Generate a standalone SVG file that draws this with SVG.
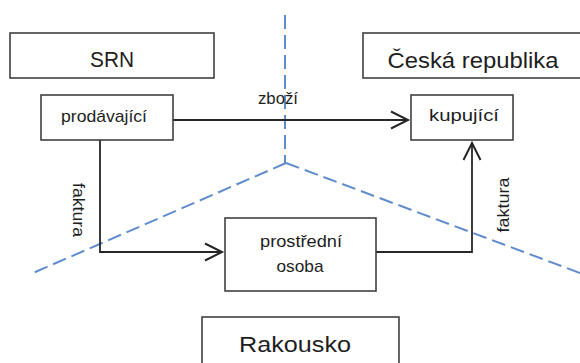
<svg xmlns="http://www.w3.org/2000/svg" width="580" height="363" viewBox="0 0 580 363">
<defs>
<style>
.box{fill:#fff;stroke:#404040;stroke-width:1.6}
.t{font-family:"Liberation Sans",Arial,sans-serif;fill:#1e1e1e;text-anchor:middle}
.big{font-size:22px}
.sm{font-size:17px}
.con{fill:none;stroke:#262626;stroke-width:1.8}
.dash{fill:none;stroke:#5f8ccb;stroke-width:2;stroke-dasharray:14 6}
</style>
<marker id="arr" markerUnits="userSpaceOnUse" markerWidth="24" markerHeight="24" viewBox="-20 -12 24 24" refX="0" refY="0" orient="auto">
<path d="M-17,-8.5 L0,0 L-17,8.5" fill="none" stroke="#262626" stroke-width="2"/>
</marker>
</defs>
<rect width="580" height="363" fill="#fff"/>
<g id="borders">
<path class="dash" d="M285,15 V163"/>
<path class="dash" d="M286,163 L33,273"/>
<path class="dash" d="M286,163 L600,280.5"/>
</g>
<g id="connectors">
<path class="con" d="M173,120 H408" marker-end="url(#arr)"/>
<path class="con" d="M100,140 V252 H222" marker-end="url(#arr)"/>
<path class="con" d="M376,252 H472 V143" marker-end="url(#arr)"/>
<text class="t sm" x="278" y="104" textLength="40" lengthAdjust="spacingAndGlyphs">zboží</text>
<text class="t sm" transform="translate(73,210) rotate(90)" textLength="54" lengthAdjust="spacingAndGlyphs">faktura</text>
<text class="t sm" transform="translate(509,205) rotate(-90)" textLength="55" lengthAdjust="spacingAndGlyphs">faktura</text>
</g>
<g id="srn">
<rect class="box" x="10" y="33" width="204" height="45"/>
<text class="t big" x="112" y="67" textLength="44" lengthAdjust="spacingAndGlyphs">SRN</text>
</g>
<g id="cr">
<rect class="box" x="363" y="33" width="222" height="45"/>
<text class="t big" x="473" y="68" textLength="171" lengthAdjust="spacingAndGlyphs">Česká republika</text>
</g>
<g id="prodavajici">
<rect class="box" x="41" y="95" width="132" height="45"/>
<text class="t sm" x="104" y="122" textLength="86" lengthAdjust="spacingAndGlyphs">prodávající</text>
</g>
<g id="kupujici">
<rect class="box" x="411" y="95" width="102" height="45"/>
<text class="t sm" x="464" y="121" textLength="70" lengthAdjust="spacingAndGlyphs">kupující</text>
</g>
<g id="prostredni">
<rect class="box" x="225" y="218" width="151" height="73"/>
<text class="t sm" x="301" y="247" textLength="82" lengthAdjust="spacingAndGlyphs">prostřední</text>
<text class="t sm" x="300" y="272" textLength="47" lengthAdjust="spacingAndGlyphs">osoba</text>
</g>
<g id="rakousko">
<rect class="box" x="202" y="317" width="197" height="60"/>
<text class="t big" x="295" y="352" textLength="112" lengthAdjust="spacingAndGlyphs">Rakousko</text>
</g>
</svg>
